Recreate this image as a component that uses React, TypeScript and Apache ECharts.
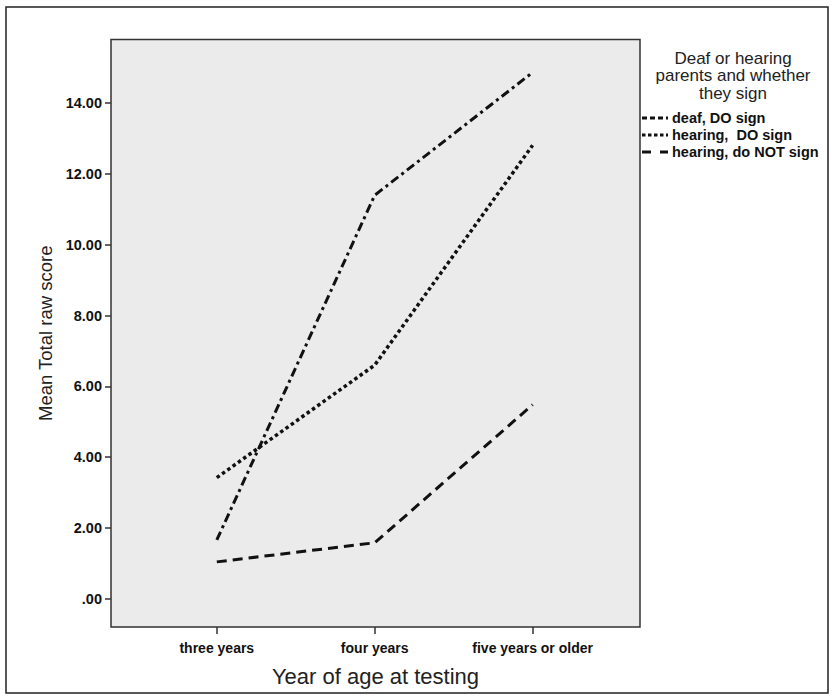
import React, { useEffect, useRef } from "react";
import * as echarts from "echarts";

const categories = ["three years", "four years", "five years or older"];
const seriesNames = ["deaf, DO sign", "hearing,  DO sign", "hearing, do NOT sign"];
const deafDoSign = [1.66, 11.4, 14.87];
const hearingDoSign = [3.42, 6.6, 12.81];
const hearingNotSign = [1.04, 1.58, 5.48];
const yTicks = [0, 2, 4, 6, 8, 10, 12, 14];
const legendTitle = ["Deaf or hearing", "parents and whether", "they sign"];

const dashes = [
  [9, 4, 3, 4],
  [3.5, 3],
  [10, 6],
];

export default function App() {
  const ref = useRef<HTMLDivElement>(null);
  useEffect(() => {
    if (!ref.current) return;
    const chart = echarts.init(ref.current, undefined, { renderer: "svg" });
    const values = [deafDoSign, hearingDoSign, hearingNotSign];
    const font = "Liberation Sans, Arial, sans-serif";
    const legendX = 642;
    const legendY0 = 118;
    const graphic: any[] = [
      {
        type: "rect",
        shape: { x: 6, y: 7, width: 822, height: 686 },
        style: { fill: "none", stroke: "#222", lineWidth: 1.5 },
        silent: true,
        z: -10,
      },
    ];
    legendTitle.forEach((t, i) => {
      graphic.push({
        type: "text",
        x: 733,
        y: 58 + i * 17.5,
        style: {
          text: t,
          fontFamily: font,
          fontSize: 17,
          fill: "#222",
          align: "center",
          verticalAlign: "middle",
        },
      });
    });
    seriesNames.forEach((n, i) => {
      const y = legendY0 + i * 17;
      graphic.push({
        type: "line",
        shape: { x1: legendX, y1: y, x2: legendX + 26, y2: y },
        style: {
          stroke: "#111",
          lineWidth: 3,
          lineDash: i === 2 ? [9, 9, 4, 0] : i === 0 ? [5, 3] : [3.5, 2.5],
        },
      });
      graphic.push({
        type: "text",
        x: legendX + 30,
        y,
        style: {
          text: n,
          fontFamily: font,
          fontSize: 14.5,
          fontWeight: "bold",
          fill: "#111",
          verticalAlign: "middle",
        },
      });
    });

    chart.setOption({
      animation: false,
      grid: {
        left: 111,
        top: 39.5,
        right: 192,
        bottom: 69,
        outerBoundsMode: "none",
        containLabel: false,
        show: true,
        backgroundColor: "#ebebeb",
        borderColor: "#333",
        borderWidth: 1.5,
      },
      xAxis: {
        type: "value",
        min: 0.33,
        max: 3.68,
        name: "Year of age at testing",
        nameLocation: "middle",
        nameGap: 38,
        nameTextStyle: { fontFamily: font, fontSize: 22, color: "#222" },
        axisLine: { show: false, onZero: false },
        splitLine: { show: false },
        axisTick: {
          show: true,
          length: 7,
          customValues: [1, 2, 3],
          lineStyle: { color: "#333", width: 1.5 },
        },
        axisLabel: {
          customValues: [1, 2, 3],
          formatter: (v: number) => categories[Math.round(v) - 1] ?? "",
          fontFamily: font,
          fontWeight: "bold",
          fontSize: 14,
          color: "#111",
          margin: 14,
        },
      },
      yAxis: {
        type: "value",
        min: -0.8,
        max: 15.8,
        name: "Mean Total raw score",
        nameLocation: "middle",
        nameGap: 56,
        nameTextStyle: { fontFamily: font, fontSize: 18.5, color: "#222" },
        axisLine: { show: false, onZero: false },
        splitLine: { show: false },
        axisTick: {
          show: true,
          length: 6,
          customValues: yTicks,
          lineStyle: { color: "#333", width: 1.5 },
        },
        axisLabel: {
          customValues: yTicks,
          formatter: (v: number) => (v === 0 ? ".00" : v.toFixed(2)),
          fontFamily: font,
          fontWeight: "bold",
          fontSize: 14.5,
          color: "#111",
          margin: 9,
        },
      },
      series: seriesNames.map((name, i) => ({
        name,
        type: "line",
        data: values[i].map((v, j) => [j + 1, v]),
        showSymbol: false,
        symbol: "none",
        lineStyle: { color: "#111", width: i === 1 ? 3.5 : 3, type: dashes[i] },
      })),
      graphic,
    });
    return () => chart.dispose();
  }, []);
  return (
    <div style={{ position: "fixed", left: 0, top: 0, width: 832, height: 696, background: "#fff" }}>
      <div ref={ref} style={{ width: 832, height: 696 }} />
    </div>
  );
}
